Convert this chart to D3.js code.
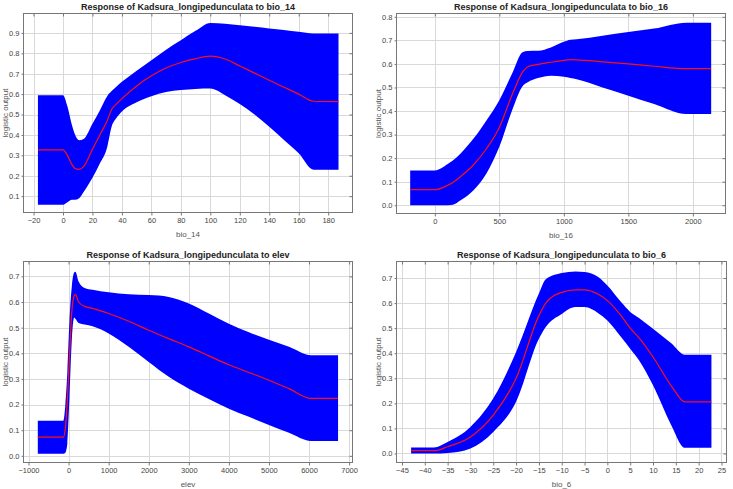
<!DOCTYPE html>
<html lang="en">
<head>
<meta charset="UTF-8">
<title>Response curves</title>
<script src="https://d3js.org/d3.v7.min.js"></script>
<style>
    body { margin: 0; background: #fff; }
    text { font-family: "Liberation Sans", Arial, sans-serif; }
    .title { font-size: 9px; font-weight: bold; fill: #222; }
    .axis-label { font-size: 8px; fill: #555; }
    .tick text { font-size: 7.5px; fill: #444; }
    .grid line { stroke: #d9d9d9; stroke-width: 1; }
    .frame { fill: none; stroke: #777; stroke-width: 1; }
</style>
</head>
<body>
<svg width="733" height="489"></svg>
<script>
// bio_14
const bio14X     = [-17, 0, 3, 6, 8, 11, 14, 20, 25, 30, 33, 36, 40, 50, 60, 70, 80, 90, 100, 110, 120, 130, 140, 150, 160, 170, 187];
const bio14Mean  = [0.327, 0.327, 0.30, 0.255, 0.237, 0.231, 0.245, 0.33, 0.40, 0.47, 0.525, 0.55, 0.578, 0.64, 0.69, 0.728, 0.755, 0.774, 0.786, 0.772, 0.738, 0.703, 0.668, 0.634, 0.60, 0.565, 0.563];
const bio14Upper = [0.595, 0.595, 0.54, 0.45, 0.405, 0.374, 0.38, 0.455, 0.52, 0.59, 0.615, 0.635, 0.66, 0.715, 0.766, 0.818, 0.864, 0.91, 0.949, 0.945, 0.937, 0.93, 0.922, 0.914, 0.905, 0.897, 0.897];
const bio14Lower = [0.058, 0.058, 0.07, 0.082, 0.082, 0.09, 0.12, 0.19, 0.26, 0.34, 0.44, 0.48, 0.515, 0.56, 0.59, 0.61, 0.62, 0.625, 0.627, 0.595, 0.552, 0.50, 0.44, 0.375, 0.31, 0.23, 0.23];
const bio14XTicks = [-20, 0, 20, 40, 60, 80, 100, 120, 140, 160, 180];
const bio14YTicks = [0.1, 0.2, 0.3, 0.4, 0.5, 0.6, 0.7, 0.8, 0.9];

// bio_16
const bio16X     = [-191, 0, 100, 140, 200, 300, 400, 500, 600, 680, 720, 800, 900, 1000, 1050, 1100, 1300, 1500, 1700, 1950, 2142];
const bio16Mean  = [0.066, 0.066, 0.085, 0.097, 0.122, 0.172, 0.24, 0.33, 0.47, 0.565, 0.588, 0.598, 0.607, 0.615, 0.618, 0.617, 0.609, 0.60, 0.59, 0.58, 0.58];
const bio16Upper = [0.148, 0.148, 0.175, 0.19, 0.22, 0.283, 0.36, 0.446, 0.56, 0.65, 0.655, 0.656, 0.67, 0.694, 0.703, 0.705, 0.72, 0.735, 0.75, 0.775, 0.775];
const bio16Lower = [0, 0, 0, 0.002, 0.021, 0.064, 0.135, 0.248, 0.404, 0.505, 0.522, 0.54, 0.55, 0.545, 0.54, 0.535, 0.50, 0.465, 0.43, 0.387, 0.387];
const bio16XTicks = [0, 500, 1000, 1500, 2000];
const bio16YTicks = [0, 0.1, 0.2, 0.3, 0.4, 0.5, 0.6, 0.7, 0.8];

// elev
const elevX     = [-768, -130, -80, -30, 20, 80, 140, 170, 250, 400, 600, 1000, 1500, 2000, 2500, 3000, 3500, 4000, 4500, 5000, 5500, 6050, 6725];
const elevMean  = [0.073, 0.073, 0.11, 0.22, 0.38, 0.56, 0.625, 0.63, 0.60, 0.583, 0.575, 0.555, 0.525, 0.49, 0.457, 0.425, 0.39, 0.355, 0.325, 0.295, 0.262, 0.224, 0.224];
const elevUpper = [0.137, 0.137, 0.20, 0.33, 0.52, 0.66, 0.715, 0.718, 0.68, 0.655, 0.648, 0.638, 0.63, 0.627, 0.62, 0.594, 0.555, 0.515, 0.482, 0.453, 0.425, 0.392, 0.392];
const elevLower = [0.008, 0.008, 0.012, 0.05, 0.22, 0.45, 0.54, 0.535, 0.518, 0.512, 0.505, 0.477, 0.425, 0.366, 0.308, 0.262, 0.222, 0.184, 0.152, 0.12, 0.09, 0.058, 0.058];
const elevXTicks = [-1000, 0, 1000, 2000, 3000, 4000, 5000, 6000, 7000];
const elevYTicks = [0, 0.1, 0.2, 0.3, 0.4, 0.5, 0.6, 0.7];

// bio_6
const bio6X     = [-43, -38, -35, -30, -25, -20, -15, -13.5, -10, -7, -5, -2, 0, 3, 5, 7, 10, 14, 17, 22.8];
const bio6Mean  = [0.011, 0.011, 0.027, 0.066, 0.153, 0.30, 0.55, 0.60, 0.643, 0.653, 0.653, 0.635, 0.61, 0.55, 0.50, 0.46, 0.385, 0.27, 0.206, 0.206];
const bio6Upper = [0.024, 0.024, 0.046, 0.106, 0.22, 0.405, 0.638, 0.695, 0.72, 0.726, 0.724, 0.704, 0.67, 0.604, 0.565, 0.54, 0.498, 0.44, 0.394, 0.394];
const bio6Lower = [0, 0, 0.002, 0.02, 0.086, 0.206, 0.458, 0.505, 0.557, 0.584, 0.584, 0.56, 0.531, 0.465, 0.418, 0.37, 0.272, 0.113, 0.023, 0.023];
const bio6XTicks = [-45, -40, -35, -30, -25, -20, -15, -10, -5, 0, 5, 10, 15, 20, 25];
const bio6YTicks = [0, 0.1, 0.2, 0.3, 0.4, 0.5, 0.6, 0.7];

const panels = [
    { v: "bio_14", xs: bio14X, mean: bio14Mean, upper: bio14Upper, lower: bio14Lower,
      xTicks: bio14XTicks, yTicks: bio14YTicks,
      xDom: [-26.8, 196.5], yDom: [0.02, 0.995], box: [23.5, 13.5, 352.5, 212.5] },
    { v: "bio_16", xs: bio16X, mean: bio16Mean, upper: bio16Upper, lower: bio16Lower,
      xTicks: bio16XTicks, yTicks: bio16YTicks,
      xDom: [-297, 2253], yDom: [-0.035, 0.814], box: [396.5, 13.5, 725.5, 213.5] },
    { v: "elev", xs: elevX, mean: elevMean, upper: elevUpper, lower: elevLower,
      xTicks: elevXTicks, yTicks: elevYTicks,
      xDom: [-1125, 7085], yDom: [-0.026, 0.758], box: [23.5, 261.5, 352.5, 462.5] },
    { v: "bio_6", xs: bio6X, mean: bio6Mean, upper: bio6Upper, lower: bio6Lower,
      xTicks: bio6XTicks, yTicks: bio6YTicks,
      xDom: [-46.2, 26.1], yDom: [-0.036, 0.766], box: [396.5, 261.5, 726.5, 462.5] }
];

const svg = d3.select("svg");

panels.forEach((p, i) => {
    const [x0, y0, x1, y1] = p.box;
    const x = d3.scaleLinear().domain(p.xDom).range([x0, x1]);
    const y = d3.scaleLinear().domain(p.yDom).range([y1, y0]);
    const g = svg.append("g");

    // grid
    const grid = g.append("g").attr("class", "grid");
    grid.selectAll(".gx").data(p.xTicks).enter().append("line")
        .attr("x1", d => Math.round(x(d)) + 0.5).attr("x2", d => Math.round(x(d)) + 0.5)
        .attr("y1", y0).attr("y2", y1);
    grid.selectAll(".gy").data(p.yTicks).enter().append("line")
        .attr("y1", d => Math.round(y(d)) + 0.5).attr("y2", d => Math.round(y(d)) + 0.5)
        .attr("x1", x0).attr("x2", x1);

    const pts = p.xs.map((v, j) => ({ x: v, m: p.mean[j], hi: p.upper[j], lo: p.lower[j] }));

    g.append("clipPath").attr("id", "clip" + i)
        .append("rect").attr("x", x0).attr("y", y0).attr("width", x1 - x0).attr("height", y1 - y0);

    const area = d3.area()
        .x(d => x(d.x)).y0(d => y(d.lo)).y1(d => y(d.hi))
        .curve(d3.curveMonotoneX);
    const line = d3.line()
        .x(d => x(d.x)).y(d => y(d.m))
        .curve(d3.curveMonotoneX);

    g.append("path").datum(pts)
        .attr("clip-path", `url(#clip${i})`)
        .attr("d", area).attr("fill", "#0000ff");
    g.append("path").datum(pts)
        .attr("clip-path", `url(#clip${i})`)
        .attr("d", line).attr("fill", "none")
        .attr("stroke", "#ff1010").attr("stroke-width", 1.2);

    // axes
    const xAxis = d3.axisBottom(x).tickValues(p.xTicks).tickFormat(d3.format("d"))
        .tickSize(3).tickSizeOuter(0).tickPadding(2);
    const yAxis = d3.axisLeft(y).tickValues(p.yTicks).tickFormat(d3.format(".1f"))
        .tickSize(2).tickSizeOuter(0).tickPadding(2);
    const gx = g.append("g").attr("transform", `translate(0,${y1})`).call(xAxis);
    const gy = g.append("g").attr("transform", `translate(${x0},0)`).call(yAxis);
    [gx, gy].forEach(a => {
        a.select(".domain").remove();
        a.selectAll(".tick line").attr("stroke", "#777");
    });

    // inner ticks on top and right
    g.append("g").attr("transform", `translate(0,${y0})`)
        .call(d3.axisBottom(x).tickValues(p.xTicks).tickFormat("").tickSize(3).tickSizeOuter(0))
        .call(a => { a.select(".domain").remove(); a.selectAll(".tick line").attr("stroke", "#777"); });
    g.append("g").attr("transform", `translate(${x1},0)`)
        .call(d3.axisLeft(y).tickValues(p.yTicks).tickFormat("").tickSize(3).tickSizeOuter(0))
        .call(a => { a.select(".domain").remove(); a.selectAll(".tick line").attr("stroke", "#777"); });

    g.append("rect").attr("class", "frame")
        .attr("x", x0).attr("y", y0).attr("width", x1 - x0).attr("height", y1 - y0);

    // labels
    const cx = (x0 + x1) / 2;
    g.append("text").attr("class", "title")
        .attr("x", cx).attr("y", y0 - 4).attr("text-anchor", "middle")
        .text("Response of Kadsura_longipedunculata to " + p.v);
    g.append("text").attr("class", "axis-label")
        .attr("x", cx).attr("y", y1 + 24).attr("text-anchor", "middle")
        .text(p.v);
    g.append("text").attr("class", "axis-label")
        .attr("transform", `translate(${x0 - 15.5},${(y0 + y1) / 2}) rotate(-90)`)
        .attr("text-anchor", "middle")
        .text("logistic output");
});
</script>
</body>
</html>
